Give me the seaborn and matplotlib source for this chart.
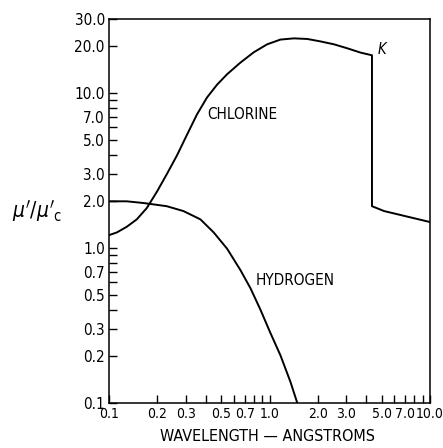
import matplotlib
matplotlib.use("Agg")
import matplotlib.pyplot as plt
import seaborn as sns
from matplotlib import font_manager
from matplotlib.ticker import FixedLocator, FixedFormatter, NullFormatter

# Chlorine mass-absorption ratio vs wavelength (K edge near 4.35 A)
cl_wavelength = [0.1, 0.112, 0.129, 0.149, 0.172, 0.199, 0.229, 0.265, 0.306, 0.353,
                 0.408, 0.471, 0.544, 0.659, 0.798, 0.967, 1.17, 1.42, 1.72, 2.08,
                 2.52, 3.06, 3.70, 4.35, 4.35, 5.18, 6.59, 10.0]
cl_ratio = [1.21, 1.26, 1.37, 1.53, 1.81, 2.31, 2.99, 3.95, 5.37, 7.26,
            9.35, 11.3, 13.2, 15.7, 18.3, 20.6, 22.1, 22.5, 22.3, 21.5,
            20.6, 19.4, 18.2, 17.5, 1.86, 1.73, 1.63, 1.47]

# Hydrogen mass-absorption ratio vs wavelength
h_wavelength = [0.1, 0.129, 0.164, 0.229, 0.291, 0.371, 0.449, 0.544, 0.659, 0.761,
                0.878, 1.01, 1.17, 1.35, 1.49]
h_ratio = [2.0, 2.0, 1.95, 1.86, 1.73, 1.53, 1.26, 0.99, 0.72, 0.55,
           0.40, 0.285, 0.203, 0.137, 0.1]

x_ticks = [0.1, 0.2, 0.3, 0.5, 0.7, 1.0, 2.0, 3.0, 5.0, 7.0, 10.0]
x_tick_labels = ["0.1", "0.2", "0.3", "0.5", "0.7", "1.0", "2.0", "3.0", "5.0", "7.0", "10.0"]
y_ticks = [0.1, 0.2, 0.3, 0.5, 0.7, 1.0, 2.0, 3.0, 5.0, 7.0, 10.0, 20.0, 30.0]
y_tick_labels = ["0.1", "0.2", "0.3", "0.5", "0.7", "1.0", "2.0", "3.0", "5.0", "7.0",
                 "10.0", "20.0", "30.0"]
minor_ticks = [0.4, 0.6, 0.8, 0.9, 4.0, 6.0, 8.0, 9.0]

sns.set_theme(style="white")

# Prefer a narrow face for the engineering-style lettering
installed = {(f.name, f.stretch) for f in font_manager.fontManager.ttflist}
if any(n == "Liberation Sans Narrow" for n, _ in installed):
    plt.rcParams["font.family"] = ["Liberation Sans Narrow", "DejaVu Sans"]
else:
    plt.rcParams["font.family"] = ["DejaVu Sans"]
    plt.rcParams["font.stretch"] = "condensed"
plt.rcParams["mathtext.fontset"] = "dejavusans"

fig = plt.figure(figsize=(4.43, 4.48), dpi=100)
ax = fig.add_axes([109 / 443, 1 - 403 / 448, 321 / 443, 384 / 448])

sns.lineplot(x=cl_wavelength, y=cl_ratio, sort=False, estimator=None,
             color="black", linewidth=1.4, ax=ax)
sns.lineplot(x=h_wavelength, y=h_ratio, sort=False, estimator=None,
             color="black", linewidth=1.4, ax=ax)

ax.set_xscale("log")
ax.set_yscale("log")
ax.set_xlim(0.1, 10.0)
ax.set_ylim(0.1, 30.0)

ax.xaxis.set_major_locator(FixedLocator(x_ticks))
ax.xaxis.set_major_formatter(FixedFormatter(x_tick_labels))
ax.xaxis.set_minor_locator(FixedLocator(minor_ticks))
ax.xaxis.set_minor_formatter(NullFormatter())
ax.yaxis.set_major_locator(FixedLocator(y_ticks))
ax.yaxis.set_major_formatter(FixedFormatter(y_tick_labels))
ax.yaxis.set_minor_locator(FixedLocator(minor_ticks))
ax.yaxis.set_minor_formatter(NullFormatter())

ax.tick_params(axis="both", which="both", direction="in", length=6, width=1.0,
               color="black", labelsize=11, labelcolor="black", pad=3)
ax.tick_params(axis="x", which="both", top=False, bottom=True, labelsize=10)
ax.tick_params(axis="y", which="both", left=True, right=False)

for side in ["left", "right", "top", "bottom"]:
    ax.spines[side].set_visible(True)
    ax.spines[side].set_color("black")
    ax.spines[side].set_linewidth(1.1)

ax.text(0.41, 7.3, "CHLORINE", fontsize=11, ha="left", va="center", color="black")
ax.text(0.82, 0.62, "HYDROGEN", fontsize=11, ha="left", va="center", color="black")
ax.text(4.75, 19.2, "K", fontsize=10.5, ha="left", va="center", color="black",
        style="italic")

ax.set_xlabel("WAVELENGTH — ANGSTROMS", fontsize=11.5, color="black")
ax.xaxis.set_label_coords(0.495, -0.068)
ax.set_ylabel("")

fig.text(12 / 443, 1 - 211 / 448, r"$\mu'/\mu'_{\mathrm{c}}$", fontsize=15,
         ha="left", va="center", color="black")

fig.savefig("out.png", dpi=100, facecolor="white")
